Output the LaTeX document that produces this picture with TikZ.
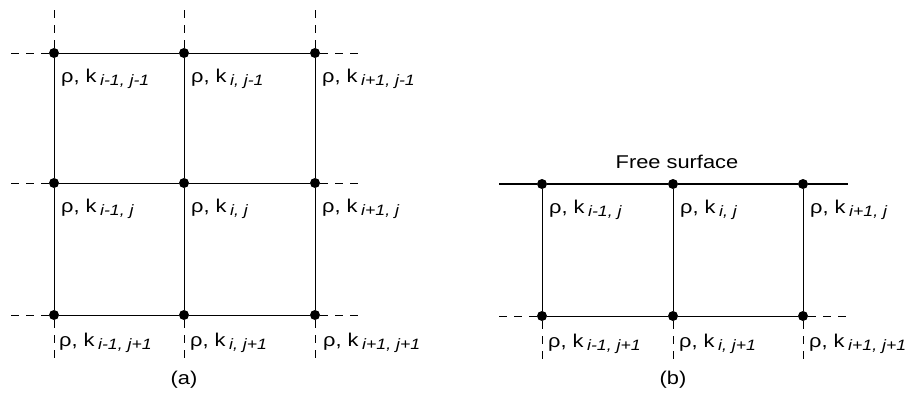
\documentclass[tikz,border=0pt]{standalone}
\usepackage{fontspec}
\setmainfont{Liberation Sans}[FakeStretch=1.18]
\newcommand\rkl[1]{ρ, k\hspace{3.5pt}\raisebox{-3pt}{\fontsize{15}{15}\selectfont\itshape #1}}
\begin{document}
\begin{tikzpicture}[x=1pt,y=-1pt,
  dot/.style={circle,fill=black,inner sep=0pt,minimum size=10pt},
  gridline/.style={line width=0.9pt},
  surf/.style={line width=1.6pt},
  stub/.style={line width=0.8pt,dash pattern=on 8pt off 7pt},
  lab/.style={anchor=base west,inner sep=0pt,font=\fontsize{18.5}{18.5}\selectfont},
  captxt/.style={inner sep=0pt,font=\fontsize{18.5}{18.5}\selectfont}]
\useasboundingbox (0,0) rectangle (906,397);
% ---------- (a) ----------
\foreach \c/\x in {1/54,2/184,3/315}{
  \foreach \r/\y in {1/53,2/183,3/315}{
    \node[dot] (a\c\r) at (\x,\y) {};
  }
}
\foreach \r in {1,2,3}{
  \draw[gridline] (a1\r) -- (a2\r) -- (a3\r);
}
\foreach \c in {1,2,3}{
  \draw[gridline] (a\c1) -- (a\c2) -- (a\c3);
}
% dashed stubs (a)
\foreach \c/\x in {1/54,2/184,3/315}{
  \coordinate (at\c) at (\x,10);
  \coordinate (ab\c) at (\x,358);
  \draw[stub] (a\c1) -- (at\c);
  \draw[stub] (a\c3) -- (ab\c);
}
\foreach \r/\y in {1/53,2/183,3/315}{
  \coordinate (al\r) at (10,\y);
  \coordinate (ar\r) at (360,\y);
  \draw[stub] (a1\r) -- (al\r);
  \draw[stub] (a3\r) -- (ar\r);
}
% labels (a)
\node[lab] (la11) at ([shift={(7,29)}]a11.center) {\rkl{i-1, j-1}};
\node[lab] (la21) at ([shift={(7,29)}]a21.center) {\rkl{i, j-1}};
\node[lab] (la31) at ([shift={(7,29)}]a31.center) {\rkl{i+1, j-1}};
\node[lab] (la12) at ([shift={(7,29)}]a12.center) {\rkl{i-1, j}};
\node[lab] (la22) at ([shift={(7,29)}]a22.center) {\rkl{i, j}};
\node[lab] (la32) at ([shift={(7,29)}]a32.center) {\rkl{i+1, j}};
\node[lab] (la13) at ([shift={(5,31)}]a13.center) {\rkl{i-1, j+1}};
\node[lab] (la23) at ([shift={(6,31)}]a23.center) {\rkl{i, j+1}};
\node[lab] (la33) at ([shift={(8,31)}]a33.center) {\rkl{i+1, j+1}};
\node[captxt] (capa) at (184,380) {(a)};
% ---------- (b) ----------
\foreach \c/\x in {1/542,2/673,3/803}{
  \node[dot] (b\c1) at (\x,184) {};
  \node[dot] (b\c2) at (\x,316) {};
}
\coordinate (sl) at (499,184);
\coordinate (sr) at (848,184);
\draw[surf] (sl) -- (b11) -- (b21) -- (b31) -- (sr);
\draw[gridline] (b12) -- (b22) -- (b32);
\foreach \c in {1,2,3}{
  \draw[gridline] (b\c1) -- (b\c2);
}
\coordinate (bl) at (499,316);
\coordinate (br) at (848,316);
\draw[stub] (b12) -- (bl);
\draw[stub] (b32) -- (br);
\foreach \c/\x in {1/542,2/673,3/803}{
  \coordinate (bb\c) at (\x,360);
  \draw[stub] (b\c2) -- (bb\c);
}
\node[captxt] (fs) at (677,162) {Free surface};
\node[lab] (lb11) at ([shift={(7,29)}]b11.center) {\rkl{i-1, j}};
\node[lab] (lb21) at ([shift={(7,29)}]b21.center) {\rkl{i, j}};
\node[lab] (lb31) at ([shift={(7,29)}]b31.center) {\rkl{i+1, j}};
\node[lab] (lb12) at ([shift={(6,31)}]b12.center) {\rkl{i-1, j+1}};
\node[lab] (lb22) at ([shift={(6,31)}]b22.center) {\rkl{i, j+1}};
\node[lab] (lb32) at ([shift={(6,31)}]b32.center) {\rkl{i+1, j+1}};
\node[captxt] (capb) at (673,380) {(b)};
\end{tikzpicture}
\end{document}
